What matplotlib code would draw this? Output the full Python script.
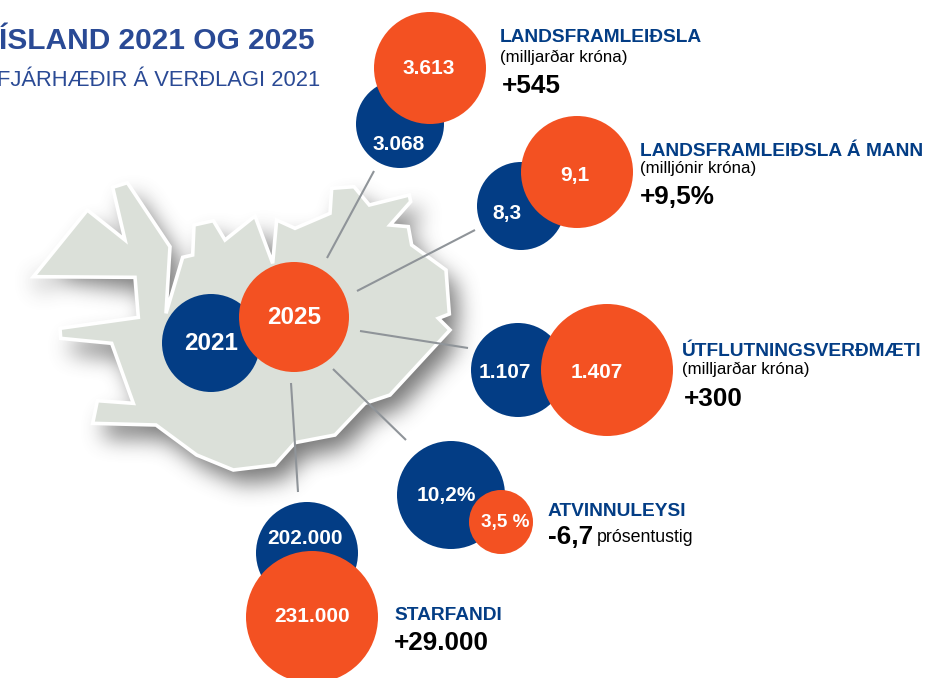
import matplotlib
matplotlib.use("Agg")
import numpy as np
import matplotlib.pyplot as plt
from matplotlib.patches import Circle, Polygon
from matplotlib.path import Path

plt.rcParams["font.family"] = ["Liberation Sans", "DejaVu Sans"]

# values as printed on the graphic
names = ["LANDSFRAMLEIÐSLA", "LANDSFRAMLEIÐSLA Á MANN", "ÚTFLUTNINGSVERÐMÆTI", "ATVINNULEYSI", "STARFANDI"]
units = ["(milljarðar króna)", "(milljónir króna)", "(milljarðar króna)", "", ""]
values_2021 = ["3.068", "8,3", "1.107", "10,2%", "202.000"]
values_2025 = ["3.613", "9,1", "1.407", "3,5 %", "231.000"]
changes = ["+545", "+9,5%", "+300", "-6,7", "+29.000"]
years = ["2021", "2025"]
title = "ÍSLAND 2021 OG 2025"
subtitle = "FJÁRHÆÐIR Á VERÐLAGI 2021"

BLUE = "#033d85"
ORANGE = "#f35122"
TITLE_BLUE = "#2a4a95"
MAP_GREY = "#dbe0d9"

# layout in image pixels: (x, y, r)
circles_2021 = [(400, 124, 44), (521, 206, 44), (518, 370, 47), (451, 495, 54), (307, 553, 51)]
circles_2025 = [(430, 68, 56), (577, 172, 56), (607, 370, 66), (501, 522, 32), (312, 617, 66)]
labels_2021 = [(399, 142), (507, 212), (505, 370), (446, 493), (305, 536)]
labels_2025 = [(429, 66), (575, 173), (597, 370), (505, 521), (312, 614)]
center_2021 = (211, 343, 49)
center_2025 = (294, 317, 55)
spokes = [((374, 171), (327, 258)), ((475, 230), (357, 291)), ((468, 348), (360, 331)),
          ((406, 440), (333, 369)), ((291, 383), (298, 492))]
name_pos = [(500, 37), (640, 151), (682, 351), (548, 511), (394, 615)]
unit_pos = [(500, 57), (640, 168), (682, 369), None, None]
change_pos = [(502, 86), (640, 197), (684, 399), (548, 537), (394, 643)]

outline = [(100, 350), (262, 150), (375, 240), (338, 82), (382, 68), (510, 260), (498, 460),
           (548, 292), (578, 285), (582, 195), (640, 182), (675, 240), (765, 168), (818, 310),
           (830, 180), (885, 205), (990, 160), (995, 85), (1062, 80), (1108, 135), (1228, 105),
           (1232, 125), (1170, 195), (1225, 200), (1235, 255), (1338, 330), (1348, 462),
           (1315, 475), (1350, 510), (1170, 705), (1095, 730), (1005, 825), (885, 848),
           (825, 915), (700, 930), (590, 885), (468, 795), (278, 790), (292, 722), (400, 730),
           (335, 550), (182, 535), (180, 505), (415, 472), (405, 352)]
outline = [(x / 3, 160 + y / 3) for x, y in outline]

fig = plt.figure(figsize=(9.47, 6.78), dpi=100)
ax = fig.add_axes([0, 0, 1, 1])
ax.set_xlim(0, 947)
ax.set_ylim(678, 0)
ax.axis("off")


def box_blur(a, n, axis):
    kernel = np.ones(n) / n
    return np.apply_along_axis(lambda m: np.convolve(m, kernel, mode="same"), axis, a)


# soft shadow: blurred mask of the outline, moved down and right
yy, xx = np.mgrid[0:678, 0:947]
pts = np.column_stack([xx.ravel() + 0.5, yy.ravel() + 0.5])
mask = Path([(x + 10, y + 14) for x, y in outline] + [outline[0]], closed=False).contains_points(pts)
mask = mask.reshape(678, 947).astype(float)
for _ in range(3):
    mask = box_blur(box_blur(mask, 21, 0), 21, 1)
rgba = np.zeros((678, 947, 4))
rgba[..., :3] = 0.3
rgba[..., 3] = mask * 0.75
ax.imshow(rgba, extent=(0, 947, 678, 0), aspect="auto", zorder=1, interpolation="bilinear")
ax.set_xlim(0, 947)
ax.set_ylim(678, 0)

ax.add_patch(Polygon(outline, closed=True, fc=MAP_GREY, ec="white", lw=2.6, joinstyle="miter", zorder=2))

for a, b in spokes:
    ax.plot([a[0], b[0]], [a[1], b[1]], color="#8f9499", lw=1.5, zorder=3, solid_capstyle="butt")


def bubble(c, color, z):
    ax.add_patch(Circle(c[:2], c[2], fc=color, ec="none", zorder=z))


def label(pos, s, size):
    ax.text(pos[0], pos[1], s, color="white", fontsize=size, fontweight="bold",
            ha="center", va="center_baseline", zorder=9)


bubble(center_2021, BLUE, 4)
bubble(center_2025, ORANGE, 6)
label((211, 341), years[0], 17.5)
label((294, 315), years[1], 17.5)

for i in range(len(names)):
    bubble(circles_2021[i], BLUE, 4)
    bubble(circles_2025[i], ORANGE, 6)
    label(labels_2021[i], values_2021[i], 15)
    label(labels_2025[i], values_2025[i], 13.6 if i == 3 else 15)

    ax.text(*name_pos[i], names[i], color=BLUE, fontsize=13.8, fontweight="bold", va="center", zorder=8)
    if unit_pos[i]:
        ax.text(*unit_pos[i], units[i], color="black", fontsize=12.2, va="center", zorder=8)
    ax.text(*change_pos[i], changes[i], color="black", fontsize=18.8, fontweight="bold", va="center", zorder=8)

ax.text(597, 538, "prósentustig", color="black", fontsize=12.8, va="center", zorder=8)

ax.text(-1, 41, title, color=TITLE_BLUE, fontsize=21.5, fontweight="bold", va="center")
ax.text(-3, 81, subtitle, color=TITLE_BLUE, fontsize=15.8, va="center")

fig.savefig("out.png", dpi=100)
